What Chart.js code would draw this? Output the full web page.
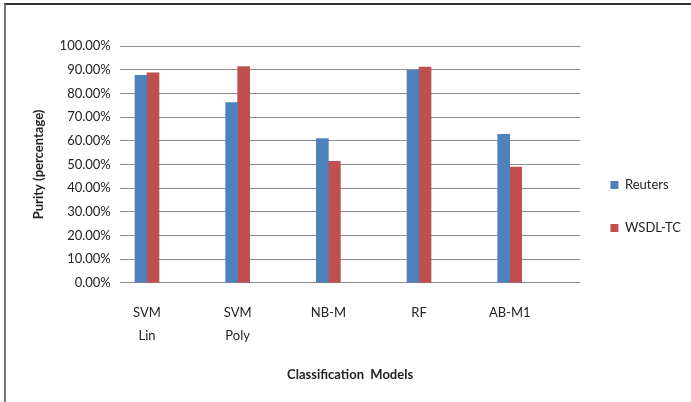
<!DOCTYPE html>
<html>
<head>
<meta charset="utf-8">
<script src="https://cdn.jsdelivr.net/npm/chart.js@4"></script>
<style>
  body { margin: 0; background: #fff; }
  #wrap { position: relative; width: 691px; height: 402px; }
  #frame {
    position: absolute; left: 4px; top: 3px; right: 0; bottom: 0;
    border-top: 2px solid #333; border-left: 2px solid #777;
    pointer-events: none;
  }
</style>
</head>
<body>
<div id="wrap">
  <canvas id="myChart" width="691" height="402"></canvas>
  <div id="frame"></div>
</div>
<script>
const categories = ["SVM Lin", "SVM Poly", "NB-M", "RF", "AB-M1"];
const reuters = [87.6, 76.1, 60.9, 89.7, 62.7];
const wsdlTc = [88.7, 91.3, 51.3, 91.1, 48.9];
const yTicks = [0, 10, 20, 30, 40, 50, 60, 70, 80, 90, 100];

const font = "Lato, 'Open Sans', sans-serif";

function points(values) {
  return values.map((v, i) => ({ x: i, y: v }));
}

const dataChart = {
  datasets: [
    {
      label: "Reuters",
      data: points(reuters),
      backgroundColor: "#4F81BD",
      barThickness: 12,
    },
    {
      label: "WSDL-TC",
      data: points(wsdlTc),
      backgroundColor: "#C0504D",
      barThickness: 12,
    },
  ],
};

// nudge the legend up a little, Excel puts it a bit above centre
const legendShift = {
  id: "legendShift",
  afterLayout(chart) {
    chart.legend.top -= 10;
    chart.legend.bottom -= 10;
  },
};

const ctx = document.getElementById("myChart");
new Chart(ctx, {
  type: "bar",
  data: dataChart,
  plugins: [legendShift],
  options: {
    responsive: false,
    animation: false,
    layout: {
      padding: { left: 27, right: 0, top: 46, bottom: 15 },
    },
    scales: {
      x: {
        type: "linear",
        offset: false,
        min: -0.3,
        max: 4.78,
        grid: { display: false },
        border: { display: false },
        afterBuildTicks: (axis) => {
          axis.ticks = categories.map((c, i) => ({ value: i }));
        },
        ticks: {
          autoSkip: false,
          maxRotation: 0,
          padding: 11,
          color: "#222",
          font: { family: font, size: 13, lineHeight: 1.75 },
          callback: (v) => categories[v] ? categories[v].split(" ") : "",
        },
        title: {
          display: true,
          text: "Classification  Models",
          color: "#222",
          font: { family: font, size: 13, weight: "bold" },
          padding: { top: 9 },
        },
      },
      y: {
        min: 0,
        max: 100,
        afterBuildTicks: (axis) => {
          axis.ticks = yTicks.map((v) => ({ value: v }));
        },
        grid: { color: "#8c8c8c", drawTicks: false },
        border: { display: false },
        ticks: {
          padding: 9,
          color: "#222",
          font: { family: font, size: 13 },
          callback: (v) => v.toFixed(2) + "%",
        },
        title: {
          display: true,
          text: "Purity (percentage)",
          color: "#222",
          font: { family: font, size: 13, weight: "bold" },
          padding: { bottom: 4 },
        },
      },
    },
    plugins: {
      legend: {
        position: "right",
        labels: {
          boxWidth: 8,
          boxHeight: 8,
          padding: 30,
          color: "#222",
          font: { family: font, size: 13 },
        },
      },
      tooltip: { enabled: false },
    },
  },
});
</script>
</body>
</html>
